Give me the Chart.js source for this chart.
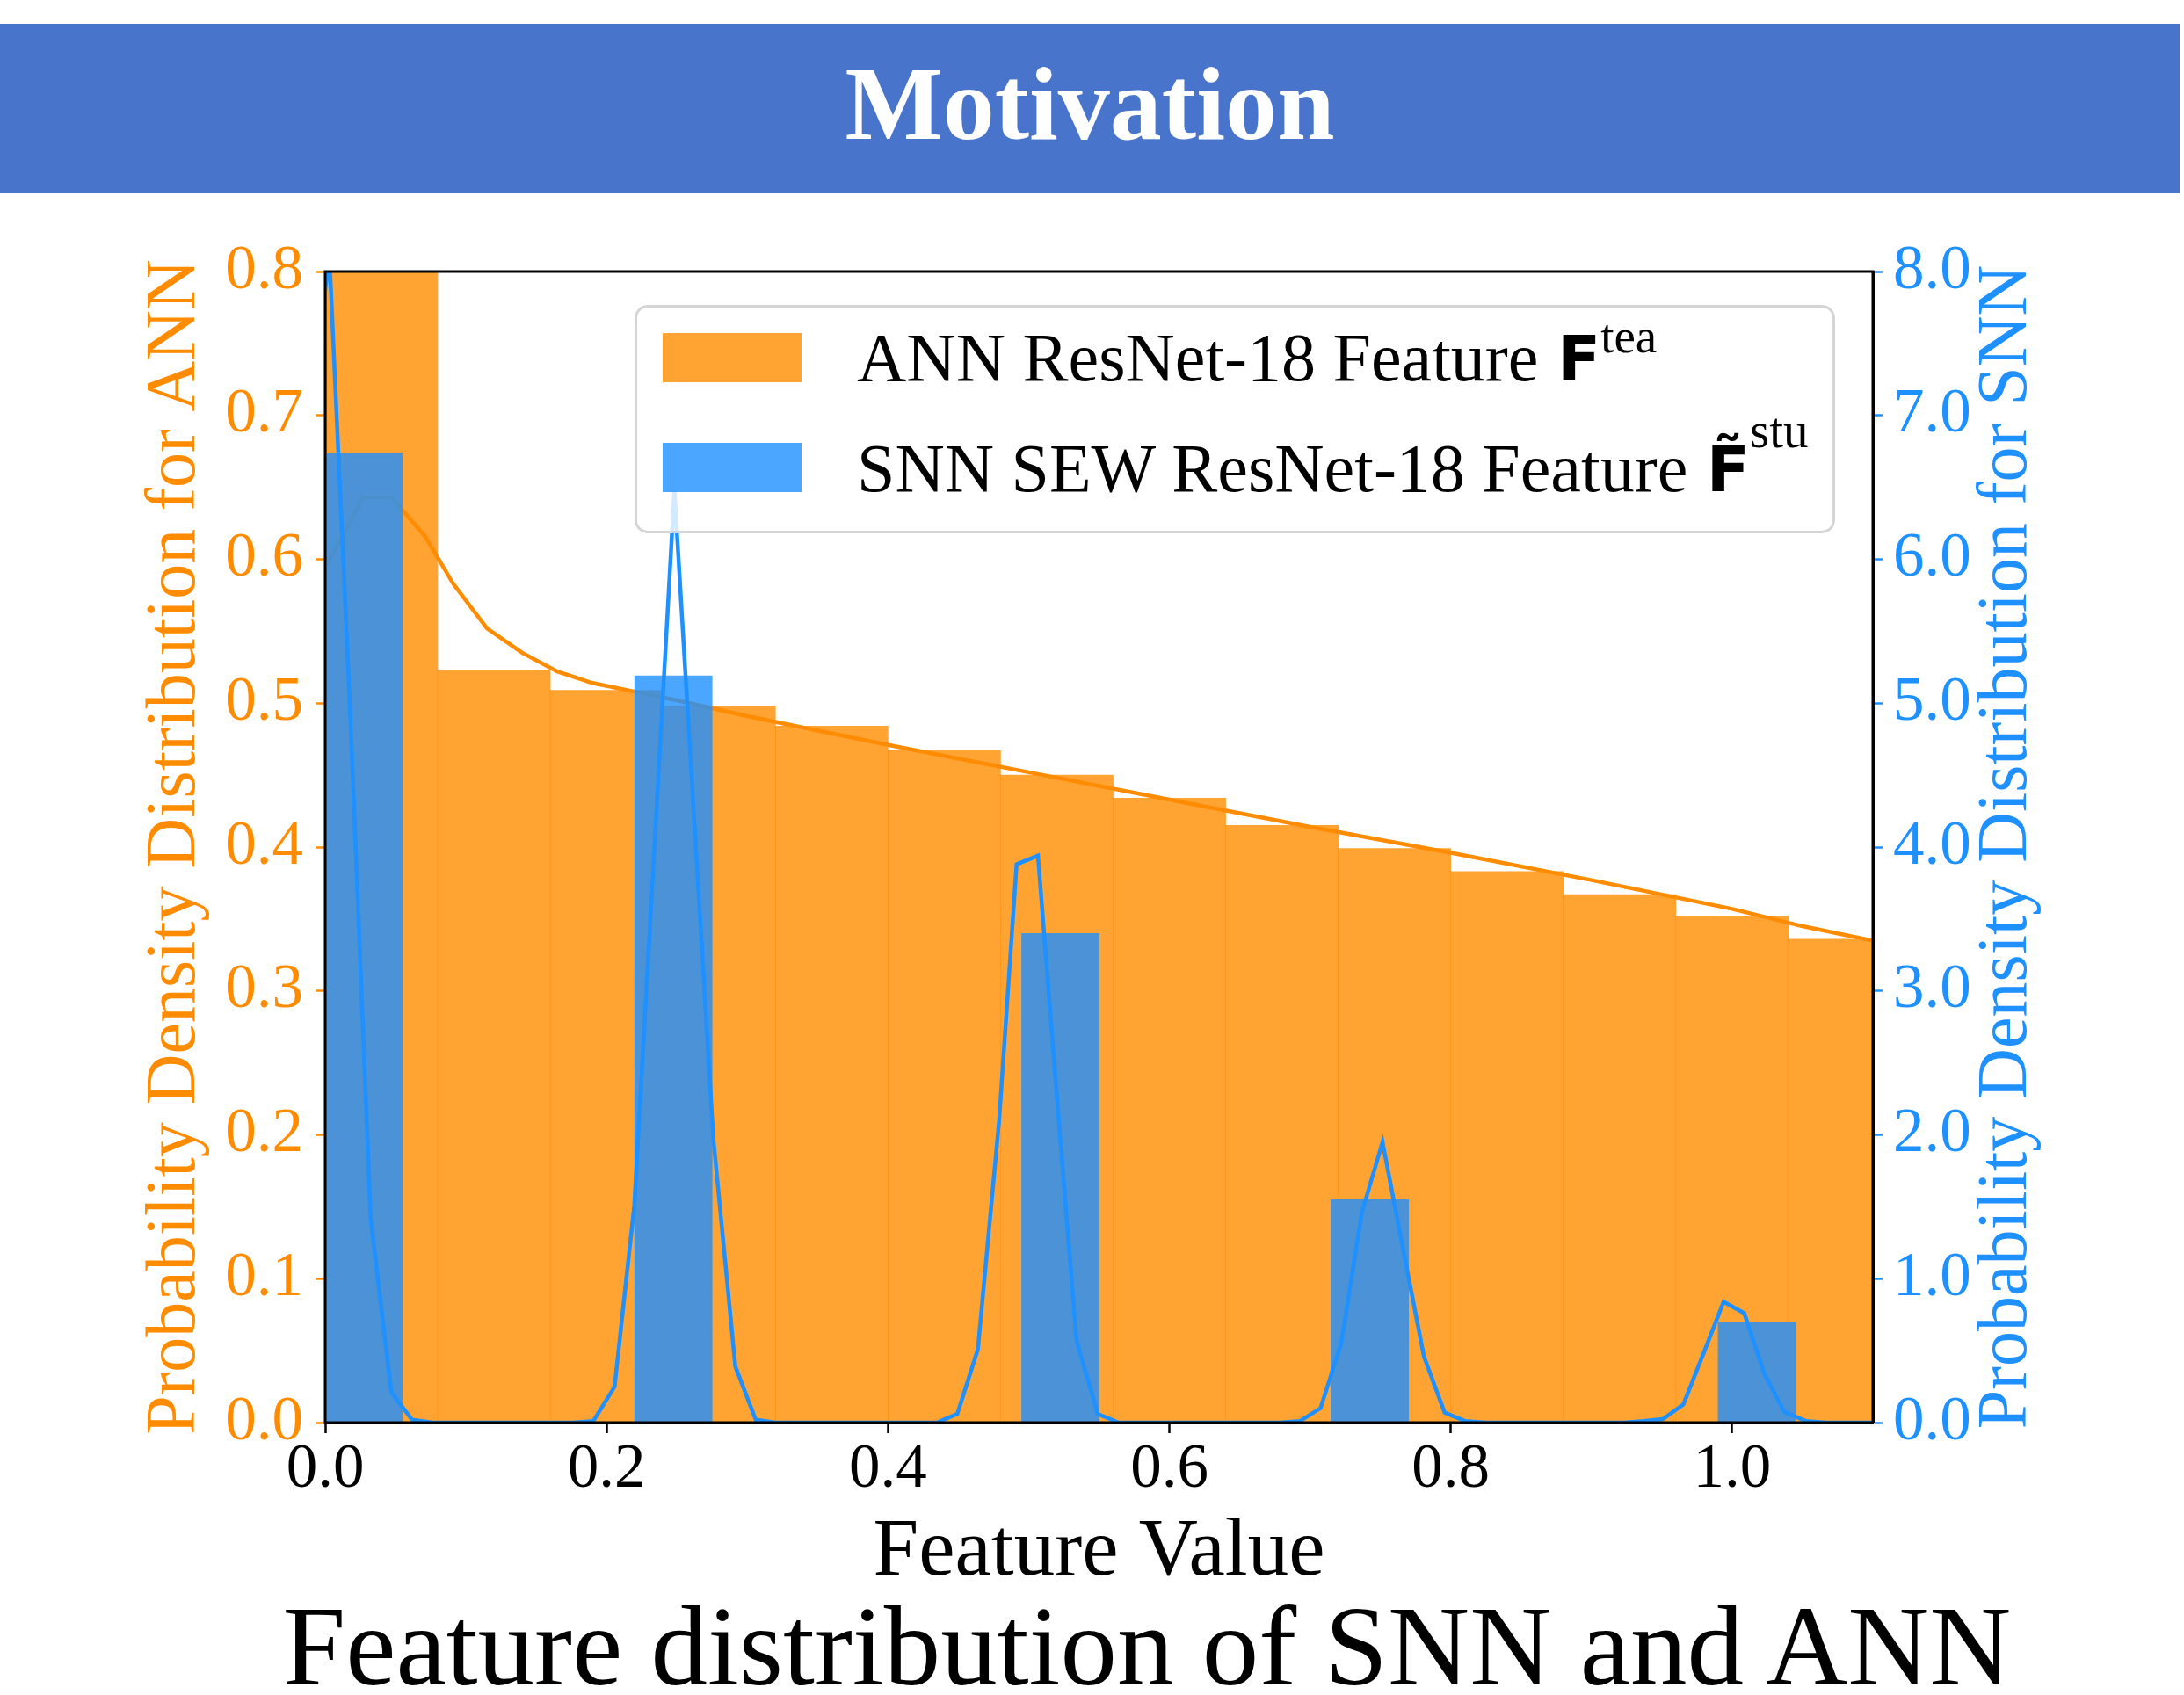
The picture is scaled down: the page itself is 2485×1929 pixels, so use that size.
<!DOCTYPE html>
<html>
<head>
<meta charset="utf-8">
<title>Motivation – feature distribution of SNN and ANN</title>
<script src="https://cdn.jsdelivr.net/npm/chart.js@4.4.1/dist/chart.umd.min.js"></script>
<style>
  html, body { margin: 0; padding: 0; background: #fff; }
  #page { position: relative; width: 2485px; height: 1929px; overflow: hidden;
          font-family: 'Liberation Serif', 'Times New Roman', serif; }
  #banner { position: absolute; left: 0; top: 27px; width: 2480px; height: 193px; background: #4874CB; }
  #banner h1 { position: absolute; left: 0; top: 33px; width: 100%; margin: 0; text-align: center;
               color: #fff; font: bold 118px/118px 'Liberation Serif', serif; }
  #caption { position: absolute; left: 1305px; top: 1809px; transform: translateX(-50%);
             white-space: nowrap; color: #000; font: 129px/129px 'Liberation Serif', serif; }
  #chart { position: absolute; left: 0; top: 0; z-index: 1; }
  #legend { position: absolute; left: 722px; top: 347px; width: 1366px; height: 260px; box-sizing: border-box;
            border: 3px solid #d5d5d5; border-radius: 15px; background: rgba(255,255,255,0.8); z-index: 2; }
  #legend .swatch { position: absolute; left: 29px; width: 158px; height: 56px; }
  #legend .label { position: absolute; left: 250px; white-space: nowrap; color: #000;
                   font: 78px/78px 'Liberation Serif', serif; }
  #legend .sym { font: bold 72px/78px 'DejaVu Sans', sans-serif; margin-left: 2px; }
  #legend .sup { position: relative; font-size: 55px; }
  #legend .row0 .swatch { top: 29px; }
  #legend .row0 .label { top: 18px; }
  #legend .row0 .sup { top: -32px; }
  #legend .row1 .swatch { top: 154px; }
  #legend .row1 .label { top: 144px; }
  #legend .row1 .sup { top: -50px; font-size: 57px; }
</style>
</head>
<body>
<div id="page">
  <div id="banner"><h1>Motivation</h1></div>
  <canvas id="chart" width="2485" height="1929"></canvas>
  <div id="legend"></div>
  <div id="caption">Feature distribution of SNN and ANN</div>
</div>
<script>
// ---- ANN (teacher) feature histogram: density per bin, bins of width 0.08 ----
const annBinWidth = 0.08;
const annBinStarts = [0.00, 0.08, 0.16, 0.24, 0.32, 0.40, 0.48, 0.56, 0.64, 0.72, 0.80, 0.88, 0.96, 1.04];
const annDensity   = [0.95, 0.523, 0.509, 0.498, 0.484, 0.467, 0.450, 0.434, 0.415, 0.399, 0.383, 0.367, 0.352, 0.336];

// ---- ANN kernel density estimate ----
const annKdeX = [0.000, 0.027, 0.047, 0.071, 0.091, 0.115, 0.140, 0.165, 0.190, 0.220, 0.250,
                 0.300, 0.400, 0.500, 0.600, 0.700, 0.800, 0.900, 1.000, 1.050, 1.100];
const annKdeY = [0.594, 0.643, 0.643, 0.616, 0.583, 0.552, 0.535, 0.522, 0.514, 0.508, 0.502,
                 0.491, 0.471, 0.452, 0.433, 0.414, 0.396, 0.377, 0.357, 0.345, 0.335];

// ---- SNN (student) feature histogram: density per bin, bins of width 0.055 ----
const snnBinWidth = 0.055;
const snnBinStarts = [0.000, 0.055, 0.110, 0.165, 0.220, 0.275, 0.330, 0.385, 0.440, 0.495,
                      0.550, 0.605, 0.660, 0.715, 0.770, 0.825, 0.880, 0.935, 0.990, 1.045];
const snnDensity   = [6.74, 0, 0, 0, 5.19, 0, 0, 0, 0, 3.40,
                      0, 0, 0, 1.55, 0, 0, 0, 0, 0.70, 0];

// ---- SNN kernel density estimate ----
const snnKdeX = [-0.0117, 0.0030, 0.0177, 0.0323, 0.0470, 0.0617, 0.0764,
                 0.1760, 0.1905, 0.2057, 0.2197, 0.2344, 0.2482, 0.2625, 0.2759, 0.2915, 0.3060, 0.3200,
                 0.4347, 0.4493, 0.4639, 0.4790, 0.4914, 0.5066, 0.5210, 0.5340, 0.5490, 0.5640,
                 0.6780, 0.6927, 0.7074, 0.7221, 0.7368, 0.7515, 0.7662, 0.7809, 0.7956, 0.8103, 0.8250,
                 0.9230, 0.9370, 0.9507, 0.9653, 0.9796, 0.9939, 1.0086, 1.0228, 1.0370, 1.0525, 1.0670, 1.1000];
const snnKdeY = [7.00, 8.10, 4.95, 1.42, 0.21, 0.02, 0.00,
                 0.00, 0.01, 0.25, 1.51, 4.07, 6.48, 4.15, 1.97, 0.39, 0.02, 0.00,
                 0.00, 0.06, 0.51, 2.10, 3.88, 3.94, 2.15, 0.57, 0.06, 0.00,
                 0.00, 0.01, 0.10, 0.55, 1.46, 1.95, 1.20, 0.46, 0.07, 0.01, 0.00,
                 0.00, 0.01, 0.024, 0.126, 0.48, 0.84, 0.76, 0.34, 0.075, 0.01, 0.00, 0.00];

// ---- axis ranges and text ----
const xRange = [0, 1.1];
const xTickStep = 0.2;
const annRange = [0, 0.8];
const annTickStep = 0.1;
const snnRange = [0, 8];
const snnTickStep = 1;
const xTitle = 'Feature Value';
const annAxisTitle = 'Probability Density Distribution for ANN';
const snnAxisTitle = 'Probability Density Distribution for SNN';
const legendText = ['ANN ResNet-18 Feature', 'SNN SEW ResNet-18 Feature'];
const legendSymbol = ['F', 'F\u0303'];
const legendSup = ['tea', 'stu'];

// ---- colours ----
const ANN_COLOR = '#FF8C00';
const ANN_FILL = 'rgba(255,140,0,0.8)';
const SNN_COLOR = '#1E90FF';
const SNN_FILL = 'rgba(30,144,255,0.8)';

Chart.defaults.font.family = "'Liberation Serif', 'Times New Roman', serif";

// Black box round the plotting area, drawn over the data like axis spines.
const framePlugin = {
  id: 'frame',
  afterDatasetsDraw(chart) {
    const { ctx, chartArea: a } = chart;
    ctx.save();
    ctx.strokeStyle = '#000';
    ctx.lineWidth = 3;
    ctx.strokeRect(a.left, a.top, a.right - a.left, a.bottom - a.top);
    ctx.restore();
  }
};

// Both y-axis titles read bottom-to-top, each in its axis colour.
const sideTitles = {
  id: 'sideTitles',
  afterDraw(chart) {
    const { ctx, chartArea: a } = chart;
    const cy = (a.top + a.bottom) / 2;
    const draw = (text, x, color) => {
      ctx.save();
      ctx.translate(x, cy);
      ctx.rotate(-Math.PI / 2);
      ctx.font = "80px 'Liberation Serif', serif";
      ctx.fillStyle = color;
      ctx.textAlign = 'center';
      ctx.textBaseline = 'middle';
      ctx.fillText(text, 0, 0);
      ctx.restore();
    };
    draw(annAxisTitle, a.left - 170, ANN_COLOR);
    draw(snnAxisTitle, a.right + 153, SNN_COLOR);
  }
};

const fmt1 = v => Number(v).toFixed(1);

const chart = new Chart(document.getElementById('chart'), {
  type: 'bar',
  data: {
    datasets: [
      {
        type: 'bar', label: legendText[0],
        data: annBinStarts.map((s, i) => ({ x: s + annBinWidth / 2, y: annDensity[i] })),
        xAxisID: 'x', yAxisID: 'y',
        backgroundColor: ANN_FILL, borderWidth: 0,
        barPercentage: 1, categoryPercentage: 1, grouped: false, order: 4
      },
      {
        type: 'line', label: 'ANN KDE',
        data: annKdeX.map((x, i) => ({ x, y: annKdeY[i] })),
        xAxisID: 'x', yAxisID: 'y',
        borderColor: ANN_COLOR, borderWidth: 4.5, pointRadius: 0, tension: 0, fill: false, order: 3
      },
      {
        type: 'bar', label: legendText[1],
        data: snnBinStarts.map((s, i) => ({ x: s + snnBinWidth / 2, y: snnDensity[i] })),
        xAxisID: 'x2', yAxisID: 'y1',
        backgroundColor: SNN_FILL, borderWidth: 0,
        barPercentage: 1, categoryPercentage: 1, grouped: false, order: 2
      },
      {
        type: 'line', label: 'SNN KDE',
        data: snnKdeX.map((x, i) => ({ x, y: snnKdeY[i] })),
        xAxisID: 'x', yAxisID: 'y1',
        borderColor: SNN_COLOR, borderWidth: 4.5, pointRadius: 0, tension: 0, fill: false, order: 1
      }
    ]
  },
  options: {
    responsive: false,
    animation: false,
    devicePixelRatio: 1,
    layout: { padding: { top: 309, bottom: 106, left: 0, right: 0 } },
    plugins: { legend: { display: false }, tooltip: { enabled: false } },
    scales: {
      x: {
        type: 'linear', position: 'bottom', min: xRange[0], max: xRange[1], offset: false,
        ticks: { stepSize: xTickStep, includeBounds: false, color: '#000', font: { size: 71 },
                 padding: 0, maxRotation: 0, autoSkip: false, callback: fmt1 },
        grid: { display: true, offset: false, drawOnChartArea: false, drawTicks: true,
                tickLength: 12, tickWidth: 2.5, tickColor: '#000' },
        border: { display: true, color: '#000', width: 3 },
        title: { display: true, text: xTitle, color: '#000', font: { size: 93 }, padding: 0 },
        afterFit: s => { s.height = 204; }
      },
      x2: {
        type: 'linear', axis: 'x', position: 'bottom', display: false,
        min: xRange[0], max: xRange[1], offset: false,
        ticks: { stepSize: 0.55 }, grid: { offset: false }
      },
      y: {
        type: 'linear', position: 'left', min: annRange[0], max: annRange[1],
        ticks: { stepSize: annTickStep, color: ANN_COLOR, font: { size: 71 }, padding: 14, callback: fmt1 },
        grid: { display: true, drawOnChartArea: false, drawTicks: true,
                tickLength: 11, tickWidth: 2.5, tickColor: ANN_COLOR },
        border: { display: true, color: '#000', width: 3 },
        afterFit: s => { s.width = 370; }
      },
      y1: {
        type: 'linear', position: 'right', min: snnRange[0], max: snnRange[1],
        ticks: { stepSize: snnTickStep, color: SNN_COLOR, font: { size: 71 }, padding: 12, callback: fmt1 },
        grid: { display: true, drawOnChartArea: false, drawTicks: true,
                tickLength: 11, tickWidth: 2.5, tickColor: SNN_COLOR },
        border: { display: true, color: '#000', width: 3 },
        afterFit: s => { s.width = 354; }
      }
    }
  },
  plugins: [framePlugin, sideTitles]
});

// Legend built from the histogram datasets, with the math symbols as rich text.
const legendEl = document.getElementById('legend');
chart.data.datasets.filter(d => d.type === 'bar').forEach((d, i) => {
  const row = document.createElement('div');
  row.className = 'row' + i;
  const sw = document.createElement('div');
  sw.className = 'swatch';
  sw.style.background = d.backgroundColor;
  const lab = document.createElement('div');
  lab.className = 'label';
  lab.appendChild(document.createTextNode(d.label + ' '));
  const sym = document.createElement('span');
  sym.className = 'sym';
  sym.textContent = legendSymbol[i];
  const sup = document.createElement('span');
  sup.className = 'sup';
  sup.textContent = legendSup[i];
  lab.appendChild(sym);
  lab.appendChild(sup);
  row.appendChild(sw);
  row.appendChild(lab);
  legendEl.appendChild(row);
});
</script>
</body>
</html>
